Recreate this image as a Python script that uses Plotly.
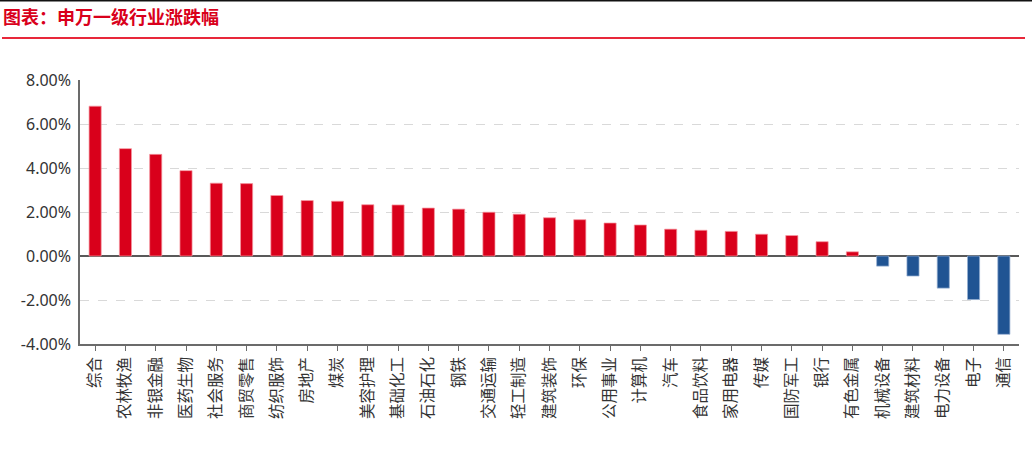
import plotly.graph_objects as go

categories = ["综合", "农林牧渔", "非银金融", "医药生物", "社会服务", "商贸零售", "纺织服饰", "房地产",
              "煤炭", "美容护理", "基础化工", "石油石化", "钢铁", "交通运输", "轻工制造", "建筑装饰",
              "环保", "公用事业", "计算机", "汽车", "食品饮料", "家用电器", "传媒", "国防军工",
              "银行", "有色金属", "机械设备", "建筑材料", "电力设备", "电子", "通信"]
changes = [6.81, 4.88, 4.62, 3.88, 3.31, 3.29, 2.75, 2.52,
           2.49, 2.33, 2.32, 2.18, 2.13, 1.99, 1.90, 1.74,
           1.65, 1.50, 1.41, 1.22, 1.17, 1.12, 0.99, 0.93,
           0.65, 0.19, -0.46, -0.91, -1.46, -1.98, -3.56]
y_ticks = [-4, -2, 0, 2, 4, 6, 8]
y_tick_labels = ["-4.00%", "-2.00%", "0.00%", "2.00%", "4.00%", "6.00%", "8.00%"]
title_text = "图表：申万一级行业涨跌幅"

RED = "#D9001B"
BLUE = "#205493"
colors = [RED if v >= 0 else BLUE for v in changes]
edge = ["rgba(245,150,160,0.9)" if v >= 0 else "rgba(150,175,210,0.9)" for v in changes]

W, H = 1032, 452
ML, MR, MT, MB = 80, 13, 80, 108
pw, ph = W - ML - MR, H - MT - MB

fig = go.Figure(go.Bar(
    x=categories, y=changes,
    marker=dict(color=colors, line=dict(color=edge, width=0.8)),
    width=0.4,
))

def px_x(p):
    return (p - ML) / pw

def px_y(p):
    return 1 - (p - MT) / ph

fig.update_layout(
    width=W, height=H,
    margin=dict(l=ML, r=MR, t=MT, b=MB, pad=0),
    paper_bgcolor="white", plot_bgcolor="white",
    showlegend=False,
    title=dict(text="<b>" + title_text + "</b>", xref="container", yref="container",
               x=3 / W, xanchor="left", y=1 - 18 / H, yanchor="middle",
               font=dict(family="Noto Sans CJK SC", size=18, color="#D9001B")),
    shapes=[
        dict(type="line", xref="paper", yref="paper", x0=px_x(0), x1=px_x(W), y0=px_y(0.75), y1=px_y(0.75),
             line=dict(color="#111111", width=1.5), layer="above"),
        dict(type="line", xref="paper", yref="paper", x0=px_x(2), x1=px_x(1025), y0=px_y(38), y1=px_y(38),
             line=dict(color="#E8283A", width=2), layer="above"),
    ],
    xaxis=dict(
        type="category", showgrid=False, showline=True, linecolor="#6b6b6b", linewidth=1.5,
        ticks="outside", ticklen=5, tickcolor="#6b6b6b", tickwidth=1.2, tickangle=-90,
        tickfont=dict(family="Noto Sans CJK SC", size=15.5, color="#333333"),
        range=[-0.5, len(categories) - 0.5], fixedrange=True,
    ),
    yaxis=dict(
        range=[-4, 8], tickvals=y_ticks, ticktext=y_tick_labels,
        showgrid=True, gridcolor="#d9d9d9", griddash="dash", gridwidth=1,
        showline=True, linecolor="#6b6b6b", linewidth=1.5,
        zeroline=True, zerolinecolor="#595959", zerolinewidth=1.5,
        ticks="", ticklabelstandoff=4, fixedrange=True,
        tickfont=dict(family="Noto Sans", size=16, color="#333333"),
    ),
)

fig.write_html("out.html", config={"displayModeBar": False},
               post_script="document.body.style.margin='0';document.body.style.padding='0';")
